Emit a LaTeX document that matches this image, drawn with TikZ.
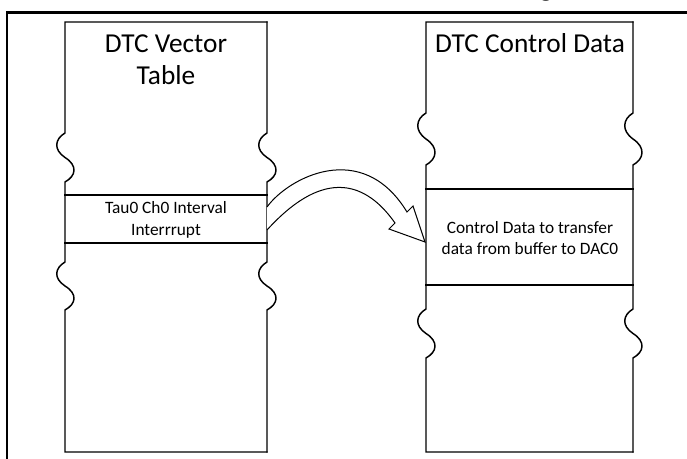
\documentclass[tikz,border=0pt]{standalone}
\usepackage{fontspec}
\setmainfont{Carlito}
\newcommand\wv[3]{-- (#1,#2) .. controls ({#1-10},{#2+6}) and ({#1-12},{(2*#2+#3)/3}) .. (#1,{(#2+#3)/2}) .. controls ({#1+13},{(#2+2*#3)/3}) and ({#1+11},{#3-6}) .. (#1,#3)}
\begin{document}
\begin{tikzpicture}[x=0.75pt,y=-0.75pt,
  col/.style={line width=1.1pt, line join=miter, line cap=rect},
  frame/.style={line width=1.6pt},
  arr/.style={line width=0.75pt, fill=white, line join=miter},
  title/.style={font=\fontsize{20.5}{24}\selectfont, align=center, inner sep=0pt},
  cell/.style={font=\fontsize{13}{16.2}\selectfont, align=center, inner sep=0pt}]
\useasboundingbox (0,0) rectangle (687,459);
% outer frame
\draw[frame] (7,462) -- (7,12.5) -- (690,12.5);
\node[title, anchor=base] (gfrag) at (546,-3) {g};
% left column
\draw[col] (267,22) -- (65,22) \wv{65}{133}{182} \wv{65}{262}{310} -- (65,452) -- (267,452);
\draw[col] (267,22) \wv{267}{133}{182} \wv{267}{262}{310} -- (267,452);
\draw[col] (65,195) -- (267,195) (65,243) -- (267,243);
% right column
\draw[col] (633,22) -- (426,22) \wv{426}{113}{165} \wv{426}{309}{358} -- (426,452) -- (633,452);
\draw[col] (633,22) \wv{633}{113}{165} \wv{633}{309}{358} -- (633,452);
\draw[col] (426,189) -- (633,189) (426,285) -- (633,285);
% texts
\node[title] (vt) at (166,60) {DTC Vector\\Table};
\node[title, anchor=base] (cdt) at (530,53) {DTC Control Data};
\node[cell] (tau) at (166,220) {Tau0 Ch0 Interval\\Interrrupt};
\node[cell] (ctl) at (530,238) {Control Data to transfer\\data from buffer to DAC0};
% block arrow
\coordinate (a1) at (267,207);
\coordinate (a2) at (267,230);
\coordinate (tip) at (425,242);
\draw[arr] (a1) .. controls (288,178) and (362,138) .. (407,212) -- (413,206) -- (tip) -- (389,229) -- (395,223) .. controls (345,152) and (290,205) .. (a2);
\end{tikzpicture}
\end{document}
